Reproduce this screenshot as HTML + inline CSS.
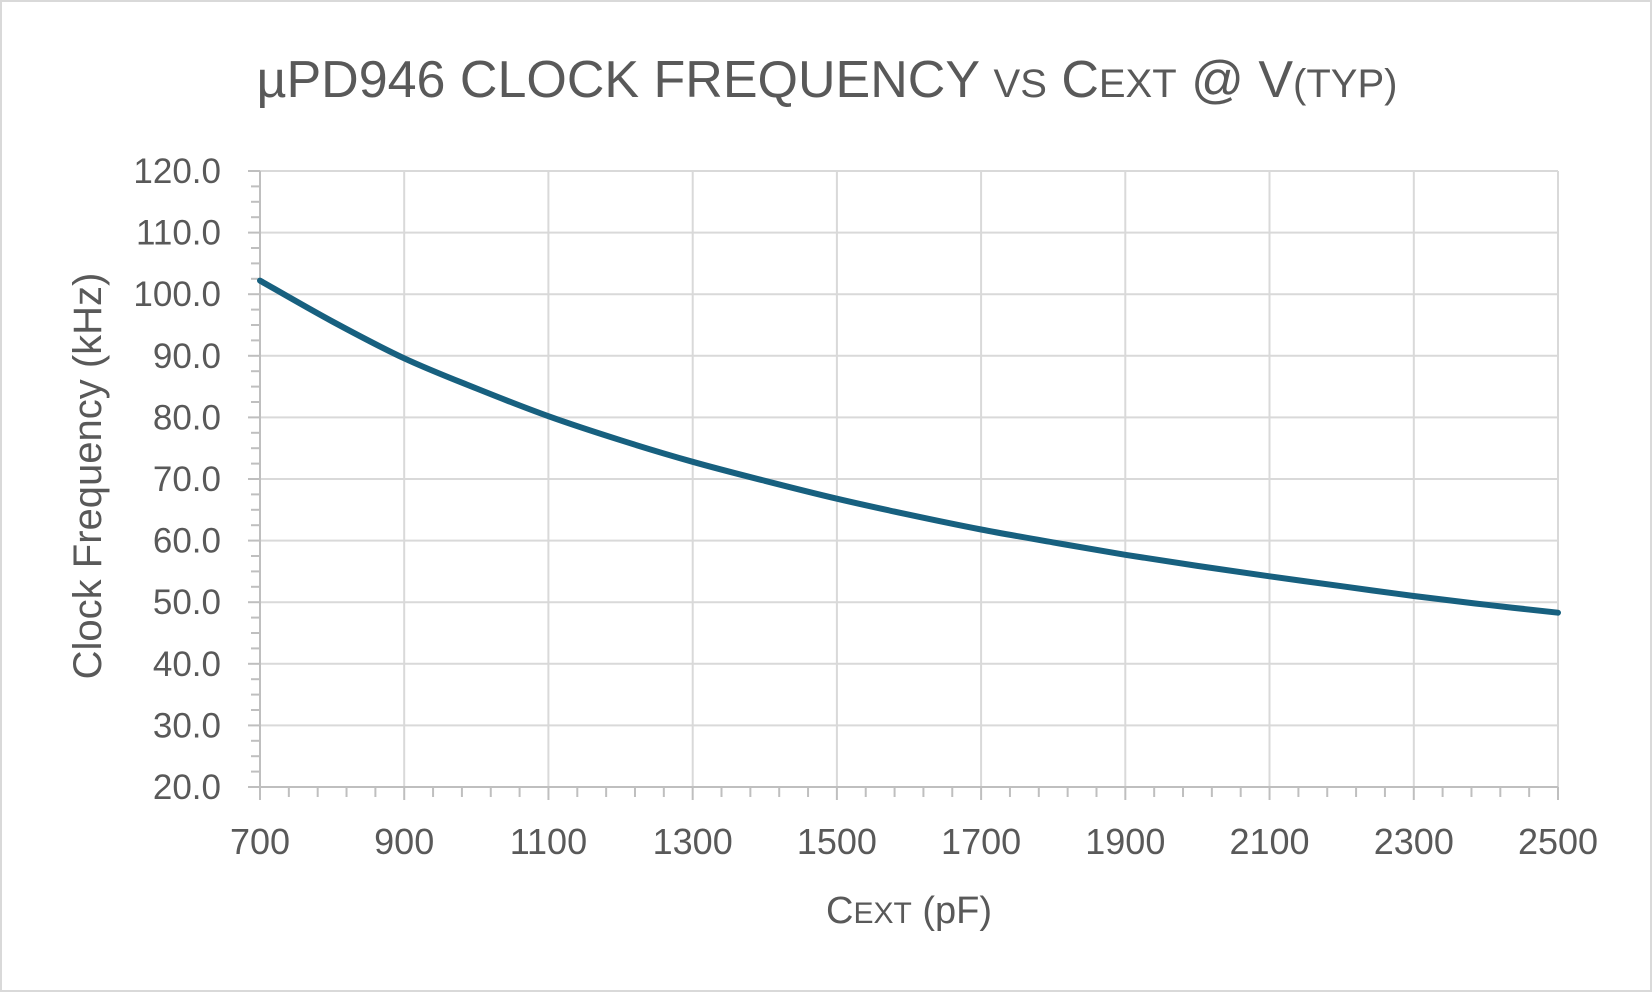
<!DOCTYPE html>
<html><head><meta charset="utf-8"><style>
html,body{margin:0;padding:0;background:#fff}
svg{display:block}
text{font-family:"Liberation Sans",sans-serif;fill:#595959}
</style></head><body>
<svg width="1652" height="992" viewBox="0 0 1652 992" xmlns="http://www.w3.org/2000/svg">
<rect x="1" y="1" width="1650" height="990" fill="#fff" stroke="#d9d9d9" stroke-width="2"/>
<g stroke="#d9d9d9" stroke-width="2">
<line x1="260" y1="725.4" x2="1558" y2="725.4"/>
<line x1="260" y1="663.8" x2="1558" y2="663.8"/>
<line x1="260" y1="602.2" x2="1558" y2="602.2"/>
<line x1="260" y1="540.6" x2="1558" y2="540.6"/>
<line x1="260" y1="479" x2="1558" y2="479"/>
<line x1="260" y1="417.4" x2="1558" y2="417.4"/>
<line x1="260" y1="355.8" x2="1558" y2="355.8"/>
<line x1="260" y1="294.2" x2="1558" y2="294.2"/>
<line x1="260" y1="232.6" x2="1558" y2="232.6"/>
<line x1="260" y1="171" x2="1558" y2="171"/>
<line x1="404.2" y1="171" x2="404.2" y2="787"/>
<line x1="548.4" y1="171" x2="548.4" y2="787"/>
<line x1="692.7" y1="171" x2="692.7" y2="787"/>
<line x1="836.9" y1="171" x2="836.9" y2="787"/>
<line x1="981.1" y1="171" x2="981.1" y2="787"/>
<line x1="1125.3" y1="171" x2="1125.3" y2="787"/>
<line x1="1269.5" y1="171" x2="1269.5" y2="787"/>
<line x1="1413.8" y1="171" x2="1413.8" y2="787"/>
<line x1="1558" y1="171" x2="1558" y2="787"/>
</g>
<g stroke="#bfbfbf" stroke-width="2">
<line x1="260" y1="171" x2="260" y2="800"/>
<line x1="248" y1="787" x2="1558" y2="787"/>
</g>
<g id="ticks" stroke="#bfbfbf" stroke-width="2"></g>
<path fill="none" stroke="#17607f" stroke-width="6" stroke-linecap="round" stroke-linejoin="round" id="curve"/>
<g font-size="35" text-anchor="end">
<text x="221" y="799">20.0</text><text x="221" y="737.4">30.0</text><text x="221" y="675.8">40.0</text>
<text x="221" y="614.2">50.0</text><text x="221" y="552.6">60.0</text><text x="221" y="491">70.0</text>
<text x="221" y="429.4">80.0</text><text x="221" y="367.8">90.0</text><text x="221" y="306.2">100.0</text>
<text x="221" y="244.6">110.0</text><text x="221" y="183">120.0</text>
</g>
<g font-size="36" text-anchor="middle">
<text x="260" y="854">700</text><text x="404.2" y="854">900</text><text x="548.4" y="854">1100</text>
<text x="692.7" y="854">1300</text><text x="836.9" y="854">1500</text><text x="981.1" y="854">1700</text>
<text x="1125.3" y="854">1900</text><text x="1269.5" y="854">2100</text><text x="1413.8" y="854">2300</text>
<text x="1558" y="854">2500</text>
</g>
<text x="909" y="923" font-size="38" text-anchor="middle">C<tspan font-size="30">EXT</tspan> (pF)</text>
<text transform="translate(101,476) rotate(-90)" font-size="40" text-anchor="middle">Clock Frequency (kHz)</text>
<text x="827" y="97" font-size="52" text-anchor="middle">µPD946 CLOCK FREQUENCY <tspan font-size="40">VS</tspan> C<tspan font-size="40">EXT</tspan> @ V<tspan font-size="40">(TYP)</tspan></text>
</svg>
<script>
var g=document.getElementById('ticks'),s='';
for(var i=0;i<=40;i++){var y=787-i*15.4;var maj=i%4==0;s+='<line x1="'+(maj?248:251)+'" y1="'+y+'" x2="260" y2="'+y+'"/>';}
for(var j=0;j<=45;j++){var x=260+j*1298/45;var maj=j%5==0;s+='<line x1="'+x+'" y1="787" x2="'+x+'" y2="'+(maj?800:797)+'"/>';}
g.innerHTML=s;
var P=[[260,280.6],[332.1,321.3],[404.2,358.3],[476.3,388.4],[548.4,416.2],[620.6,440.2],[692.7,461.8],[764.8,480.8],[836.9,498.7],[909,514.7],[981.1,529.5],[1053.2,542.4],[1125.3,554.8],[1197.4,565.9],[1269.5,576.3],[1341.6,586.2],[1413.8,596],[1485.9,604.7],[1558,612.7]];
var d='M'+P[0][0]+','+P[0][1];
for(var k=0;k<P.length-1;k++){var p0=P[k-1]||P[k],p1=P[k],p2=P[k+1],p3=P[k+2]||p2;
d+=' C'+(p1[0]+(p2[0]-p0[0])/6)+','+(p1[1]+(p2[1]-p0[1])/6)+' '+(p2[0]-(p3[0]-p1[0])/6)+','+(p2[1]-(p3[1]-p1[1])/6)+' '+p2[0]+','+p2[1];}
document.getElementById('curve').setAttribute('d',d);
</script>
</body></html>
